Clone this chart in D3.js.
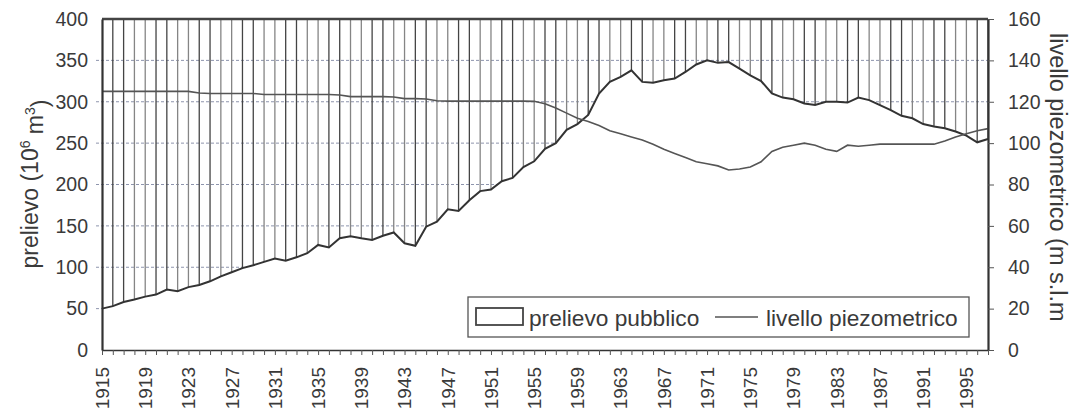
<!DOCTYPE html>
<html><head><meta charset="utf-8">
<script src="https://cdn.jsdelivr.net/npm/d3@7"></script>
<style>
body{margin:0;background:#fff}
text{font-family:"Liberation Sans",Arial,Helvetica,sans-serif;fill:#3a3a3a}
</style>
</head><body>
<svg id="c" width="1072" height="413"></svg>
<script>
// ---- data ----
const years = d3.range(1915, 1998);
const prelievo = [
  50,53,58,61,64.5,67,73,71,76,78.5,
  83,89,94,99,102.5,106.5,110.5,108,112,117,
  127,124,135,137.5,135,133,138,142,129,126,
  149,155,170,168,181,192,194,204,208,221,
  228,243,250,266,273,284,310,324,330,338,
  324,323,326,328,336,345,350,347,348,340,
  332,325,310,305,303,298,296,300,300,299,
  305,302,296,290,283,280,273,270,268,264,
  259,251,255
];
const piezometrico = [
  125,125,125,125,125,125,125,125,125,124.2,
  124,124,124,124,124,123.5,123.5,123.5,123.5,123.5,
  123.5,123.5,123.3,122.5,122.5,122.5,122.5,122.3,121.5,121.5,
  121.3,120.5,120.3,120.3,120.3,120.3,120.3,120.3,120.3,120.3,
  120.2,119,117,114.5,112,110.5,108.5,106,104.5,103,
  101.5,99.5,97,95,93,91,90,89,87,87.5,
  88.5,91,96,98,99,100,99,97,96,99,
  98.5,99,99.5,99.5,99.5,99.5,99.5,99.5,101,103,
  104.5,106,107
];
const leftTicks = [0,50,100,150,200,250,300,350,400];
const rightTicks = [0,20,40,60,80,100,120,140,160];
const xLabelYears = d3.range(1915, 1996, 4);
const seriesNames = ["prelievo pubblico", "livello piezometrico"];
const leftTitle = ["prelievo (10", "6", " m", "3", ")"];
const rightTitle = "livello piezometrico (m s.l.m";

// ---- layout ----
const m = {left:102, right:988, top:19, bottom:350};
const svg = d3.select("#c");
const x = d3.scaleLinear().domain([1915,1997]).range([m.left, m.right]);
const yL = d3.scaleLinear().domain([0,400]).range([m.bottom, m.top]);
const yR = d3.scaleLinear().domain([0,160]).range([m.bottom, m.top]);
const data = years.map((yr,i)=>({yr, p:prelievo[i], z:piezometrico[i]}));

// gridlines (dotted)
svg.append("g").selectAll("line")
  .data(leftTicks.filter(v=>v>0 && v<400)).join("line")
  .attr("x1", m.left-6).attr("x2", m.right)
  .attr("y1", d=>yL(d)).attr("y2", d=>yL(d))
  .attr("stroke","#8e95ad").attr("stroke-width",1).attr("stroke-dasharray","3,2");

// hatch lines (prelievo pubblico area, above the curve)
svg.append("g").selectAll("line")
  .data(data.slice(1)).join("line")
  .attr("x1", d=>x(d.yr)).attr("x2", d=>x(d.yr))
  .attr("y1", yL(400)).attr("y2", d=>yL(d.p))
  .attr("stroke", (d,i)=> (i%4===2 || i%4===3) ? "#858585" : "#444")
  .attr("stroke-width",1.3);

// white area under curve
svg.append("path").datum(data)
  .attr("d", d3.area().x(d=>x(d.yr)).y0(yL(0)).y1(d=>yL(d.p)))
  .attr("fill","#fff");

// prelievo curve
svg.append("path").datum(data)
  .attr("d", d3.line().x(d=>x(d.yr)).y(d=>yL(d.p)))
  .attr("fill","none").attr("stroke","#333").attr("stroke-width",2);

// top border at 400
svg.append("line")
  .attr("x1", m.left).attr("x2", m.right).attr("y1", yL(400)).attr("y2", yL(400))
  .attr("stroke","#444").attr("stroke-width",2.5);

// piezometric line
svg.append("path").datum(data)
  .attr("d", d3.line().x(d=>x(d.yr)).y(d=>yR(d.z)))
  .attr("fill","none").attr("stroke","#555").attr("stroke-width",1.6);

// bottom axis
const gx = svg.append("g").attr("transform",`translate(0,${m.bottom})`)
  .call(d3.axisBottom(x).tickValues(years).tickSize(5).tickSizeOuter(0).tickFormat(""));
gx.select(".domain").attr("stroke","#333").attr("stroke-width",1.6);
gx.selectAll(".tick line").attr("stroke","#555");
svg.append("g").selectAll("text").data(xLabelYears).join("text")
  .attr("transform", d=>`translate(${x(d)},${m.bottom+17}) rotate(-90)`)
  .attr("text-anchor","end").attr("dy","0.36em")
  .style("font-size","19px").text(d=>d);

// left axis
const gl = svg.append("g").attr("transform",`translate(${m.left},0)`)
  .call(d3.axisLeft(yL).tickValues(leftTicks).tickSize(0).tickSizeOuter(0).tickPadding(14));
gl.select(".domain").attr("stroke","#333").attr("stroke-width",2.2);
gl.selectAll("text").style("font-size","19.5px").attr("fill","#3a3a3a");

// right axis
const gr = svg.append("g").attr("transform",`translate(${m.right},0)`)
  .call(d3.axisRight(yR).tickValues(rightTicks).tickSize(6).tickSizeOuter(0).tickPadding(14));
gr.select(".domain").attr("stroke","#333").attr("stroke-width",2.2);
gr.selectAll(".tick line").attr("stroke","#555");
gr.selectAll("text").style("font-size","19.5px").attr("fill","#3a3a3a");
gl.attr("font-family",null); gr.attr("font-family",null); gx.attr("font-family",null);

// titles
const lt = svg.append("text")
  .attr("transform","translate(38,184) rotate(-90)")
  .attr("text-anchor","middle").style("font-size","23px");
lt.append("tspan").text(leftTitle[0]);
lt.append("tspan").attr("dy","-0.55em").style("font-size","14px").text(leftTitle[1]);
lt.append("tspan").attr("dy","0.55em").text(leftTitle[2]);
lt.append("tspan").attr("dy","-0.55em").style("font-size","14px").text(leftTitle[3]);
lt.append("tspan").attr("dy","0.55em").text(leftTitle[4]);

svg.append("text")
  .attr("transform","translate(1050,33) rotate(90)")
  .attr("text-anchor","start").style("font-size","23.5px").text(rightTitle);

// legend
const lg = svg.append("g");
lg.append("rect").attr("x",468).attr("y",297).attr("width",501).attr("height",40)
  .attr("fill","#fff").attr("stroke","#555").attr("stroke-width",1.3);
lg.append("rect").attr("x",476).attr("y",308).attr("width",47).attr("height",17)
  .attr("fill","#fff").attr("stroke","#444").attr("stroke-width",1.8);
lg.append("text").attr("x",529).attr("y",326).style("font-size","22.7px").text(seriesNames[0]);
lg.append("line").attr("x1",715).attr("x2",758).attr("y1",317).attr("y2",317)
  .attr("stroke","#555").attr("stroke-width",1.6);
lg.append("text").attr("x",766).attr("y",326).style("font-size","22.7px").text(seriesNames[1]);
</script>
</body></html>
